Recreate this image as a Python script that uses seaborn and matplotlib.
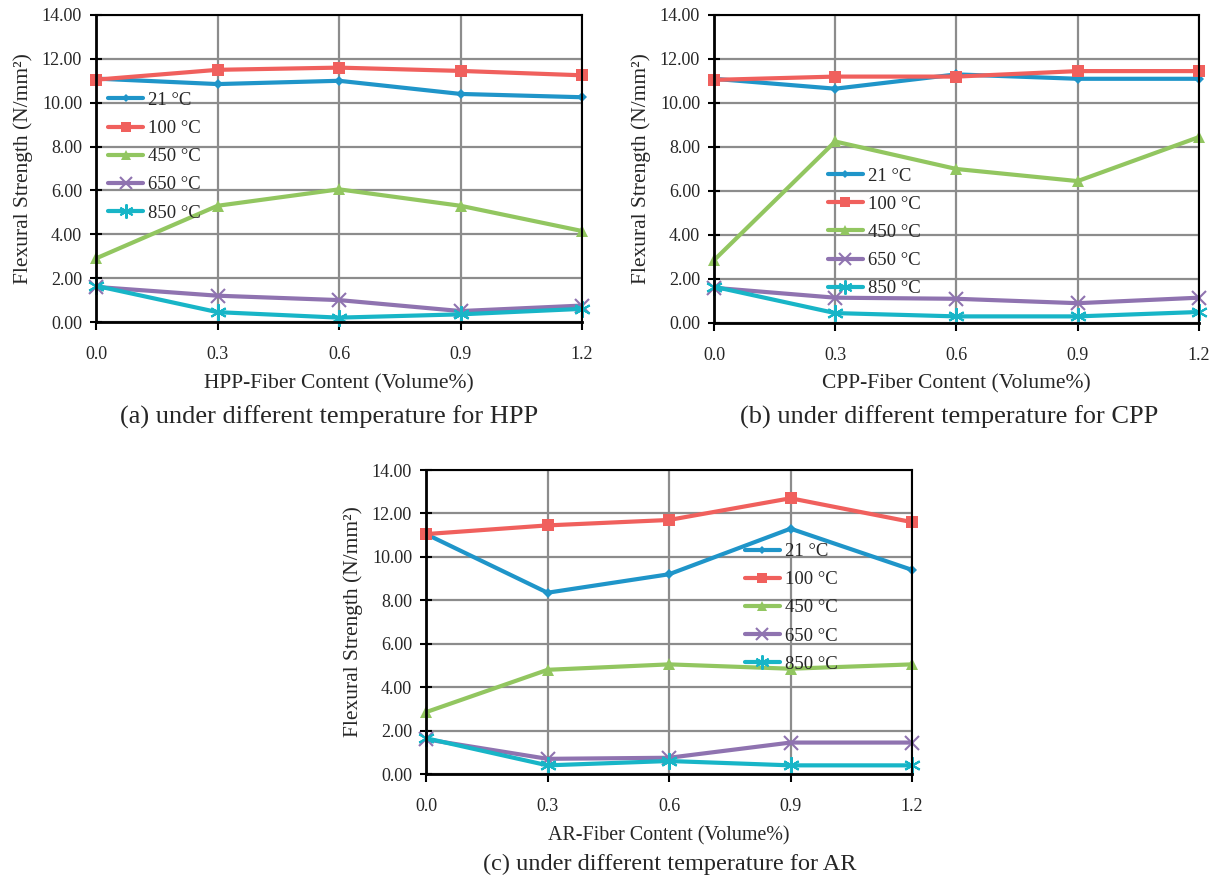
import numpy as np
import pandas as pd
import seaborn as sns
import matplotlib
matplotlib.use("Agg")
import matplotlib.pyplot as plt
from matplotlib.ticker import FormatStrFormatter

# fibre content (volume %) and exposure temperatures
fiber = [0.0, 0.3, 0.6, 0.9, 1.2]
temps = ['21 °C', '100 °C', '450 °C', '650 °C', '850 °C']

# (a) HPP
hpp_21 = [11.10, 10.85, 11.00, 10.40, 10.25]
hpp_100 = [11.05, 11.50, 11.60, 11.45, 11.25]
hpp_450 = [2.90, 5.30, 6.05, 5.30, 4.15]
hpp_650 = [1.60, 1.20, 1.00, 0.50, 0.75]
hpp_850 = [1.65, 0.45, 0.20, 0.35, 0.60]

# (b) CPP
cpp_21 = [11.10, 10.65, 11.30, 11.10, 11.10]
cpp_100 = [11.05, 11.20, 11.20, 11.45, 11.45]
cpp_450 = [2.85, 8.25, 7.00, 6.45, 8.45]
cpp_650 = [1.60, 1.15, 1.10, 0.90, 1.15]
cpp_850 = [1.65, 0.45, 0.30, 0.30, 0.50]

# (c) AR
ar_21 = [11.05, 8.35, 9.20, 11.30, 9.40]
ar_100 = [11.05, 11.45, 11.70, 12.70, 11.60]
ar_450 = [2.85, 4.80, 5.05, 4.85, 5.05]
ar_650 = [1.60, 0.70, 0.75, 1.45, 1.45]
ar_850 = [1.65, 0.40, 0.60, 0.40, 0.40]

colors = ['#1f95c9', '#f0605d', '#92c660', '#8f73b0', '#18b5c7']
marks = ['D', 's', '^', 'x', (6, 2, 0)]
msizes = [5, 8, 8, 10, 12]

sns.set_style('white')
plt.rcParams['font.family'] = ['Liberation Serif', 'DejaVu Serif']


def long_form(series):
    rows = []
    for t, vals in zip(temps, series):
        for x, v in zip(fiber, vals):
            rows.append({'fiber': x, 'strength': v, 'temp': t})
    return pd.DataFrame(rows)


def edge_w(m):
    return 1.5 if (m == 'x' or isinstance(m, tuple)) else 0


def draw(ax, series, xlabel, leg_pos, xl_size=15.5):
    df = long_form(series)
    sns.lineplot(data=df, x='fiber', y='strength', hue='temp', hue_order=temps,
                 palette=dict(zip(temps, colors)), linewidth=3, ax=ax, legend=False)
    for line, c, m, s in zip(ax.lines, colors, marks, msizes):
        line.set_marker(m)
        line.set_markersize(s)
        line.set_markerfacecolor(c)
        line.set_markeredgecolor(c)
        line.set_markeredgewidth(edge_w(m))
        line.set_clip_on(False)
        line.set_solid_joinstyle('round')
    ax.set_xlim(0, 1.2)
    ax.set_ylim(0, 14)
    ax.set_xticks(fiber)
    ax.set_yticks(np.arange(0, 15, 2))
    ax.xaxis.set_major_formatter(FormatStrFormatter('%.1f'))
    ax.yaxis.set_major_formatter(FormatStrFormatter('%.2f'))
    ax.grid(True, color='#8c8c8c', linewidth=1.6)
    ax.set_axisbelow(True)
    for sp in ax.spines.values():
        sp.set_color('black')
        sp.set_linewidth(1.5)
    ax.spines['left'].set_linewidth(2)
    ax.spines['bottom'].set_linewidth(2)
    ax.tick_params(axis='both', labelsize=13, width=1.5, color='black',
                   bottom=True, left=True)
    ax.tick_params(axis='x', direction='out', length=6, pad=11)
    ax.tick_params(axis='y', direction='inout', length=8, pad=6)
    ax.set_xlabel(xlabel, fontsize=xl_size, labelpad=8)
    ax.set_ylabel('Flexural Strength (N/mm²)', fontsize=15.5, labelpad=6.5)
    handles = [plt.Line2D([], [], color=c, marker=m, markersize=s * 0.85, lw=3,
                          markeredgewidth=edge_w(m), markeredgecolor=c)
               for c, m, s in zip(colors, marks, msizes)]
    ax.legend(handles, temps, loc='upper left', bbox_to_anchor=leg_pos, frameon=False,
              fontsize=13.5, handlelength=1.87, handletextpad=0.27, labelspacing=0.59,
              borderpad=0, borderaxespad=0)


fig = plt.figure(figsize=(12.2, 8.82), dpi=100)
ax_a = fig.add_axes([0.0787, 0.6349, 0.3984, 0.3481])
ax_b = fig.add_axes([0.5852, 0.6338, 0.3975, 0.3492])
ax_c = fig.add_axes([0.3492, 0.1224, 0.3984, 0.3447])

draw(ax_a, [hpp_21, hpp_100, hpp_450, hpp_650, hpp_850],
     'HPP-Fiber Content (Volume%)', (0.025, 0.75))
draw(ax_b, [cpp_21, cpp_100, cpp_450, cpp_650, cpp_850],
     'CPP-Fiber Content (Volume%)', (0.235, 0.505))
draw(ax_c, [ar_21, ar_100, ar_450, ar_650, ar_850],
     'AR-Fiber Content (Volume%)', (0.656, 0.76), xl_size=14.4)

fig.text(329 / 1220, 1 - 417 / 882, '(a) under different temperature for HPP',
         ha='center', va='center', fontsize=19)
fig.text(949 / 1220, 1 - 417 / 882, '(b) under different temperature for CPP',
         ha='center', va='center', fontsize=19)
fig.text(670 / 1220, 1 - 864 / 882, '(c) under different temperature for AR',
         ha='center', va='center', fontsize=17.5)

fig.savefig('out.png', dpi=100)
